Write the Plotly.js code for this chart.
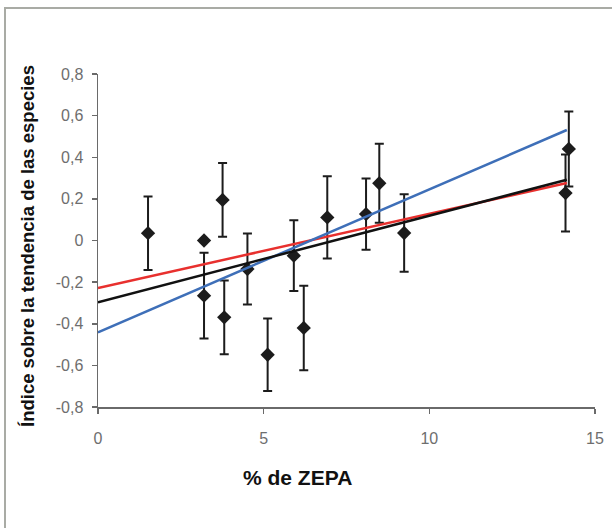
<!DOCTYPE html>
<html>
<head>
<meta charset="utf-8">
<script src="https://cdn.plot.ly/plotly-3.0.1.min.js"></script>
<style>
  html, body { margin: 0; padding: 0; background: #ffffff; }
  #wrap { position: relative; width: 612px; height: 528px; overflow: hidden; }
  #chart { position: absolute; left: 0; top: 0; width: 612px; height: 528px; }
  #frame { position: absolute; left: 4px; top: 7px; width: 640px; height: 560px;
           border-left: 2px solid #a9aba5; border-top: 2px solid #a9aba5; pointer-events: none; }
</style>
</head>
<body>
<div id="wrap">
  <div id="chart"></div>
  <div id="frame"></div>
</div>
<script>
// Percentage of ZEPA (x) and species-trend index (y) with error bars
const zepaPct   = [1.51, 3.2, 3.76, 3.81, 4.51, 5.12, 5.91, 6.21, 6.92, 8.09, 8.49, 9.24, 14.11, 14.21];
const trendIdx  = [0.035, -0.265, 0.195, -0.369, -0.137, -0.549, -0.073, -0.42, 0.111, 0.127, 0.275, 0.036, 0.228, 0.44];
const trendErr  = [0.177, 0.206, 0.177, 0.177, 0.171, 0.174, 0.17, 0.203, 0.198, 0.171, 0.19, 0.186, 0.185, 0.18];

// Point without error bar
const extraX = [3.2];
const extraY = [0.0];

// Regression lines (endpoints)
const fitX     = [0, 14.15];
const redFitY  = [-0.228, 0.276];
const blackFitY= [-0.297, 0.292];
const blueFitY = [-0.441, 0.531];

const xTickVals = [0, 5, 10, 15];
const xTickText = ['0', '5', '10', '15'];
const yTickVals = [-0.8, -0.6, -0.4, -0.2, 0, 0.2, 0.4, 0.6, 0.8];
const yTickText = ['-0,8', '-0,6', '-0,4', '-0,2', '0', '0,2', '0,4', '0,6', '0,8'];

const xTitle = '% de ZEPA';
const yTitle = 'Índice sobre la tendencia de las especies';

const font = "Liberation Sans, Arial, Helvetica, sans-serif";

const traces = [
  {
    x: zepaPct, y: trendIdx, type: 'scatter', mode: 'markers',
    marker: { symbol: 'diamond', size: 11, color: '#1c1c1c' },
    error_y: { type: 'data', array: trendErr, visible: true, color: '#1c1c1c', thickness: 2, width: 4.5 },
    showlegend: false, hoverinfo: 'skip'
  },
  {
    x: extraX, y: extraY, type: 'scatter', mode: 'markers',
    marker: { symbol: 'diamond', size: 11, color: '#1c1c1c' },
    showlegend: false, hoverinfo: 'skip'
  },
  { x: fitX, y: redFitY, type: 'scatter', mode: 'lines', line: { color: '#e8302e', width: 2.5 }, showlegend: false },
  { x: fitX, y: blueFitY, type: 'scatter', mode: 'lines', line: { color: '#3e6fb8', width: 2.5 }, showlegend: false },
  { x: fitX, y: blackFitY, type: 'scatter', mode: 'lines', line: { color: '#111111', width: 2.5 }, showlegend: false }
];

// plot area: x 98..595 px, y 74..407 px
const pw = 612 - 98 - 17, ph = 528 - 74 - 121;
const layout = {
  width: 612, height: 528,
  margin: { l: 98, r: 17, t: 74, b: 121 },
  paper_bgcolor: '#ffffff', plot_bgcolor: '#ffffff',
  font: { family: font, color: '#666666' },
  xaxis: {
    range: [0, 15], tickvals: xTickVals, ticktext: xTickText,
    showgrid: false, zeroline: false, showline: true, linecolor: '#6a6a6a', linewidth: 1.5,
    ticks: 'outside', ticklen: 5, tickcolor: '#6a6a6a', tickwidth: 1.5,
    tickfont: { family: font, size: 16, color: '#6e6e6e' },
    ticklabelstandoff: 11,
    fixedrange: true
  },
  yaxis: {
    range: [-0.8, 0.8], tickvals: yTickVals, ticktext: yTickText,
    showgrid: false, zeroline: false, showline: true, linecolor: '#6a6a6a', linewidth: 1.5,
    ticks: 'outside', ticklen: 5, tickcolor: '#6a6a6a', tickwidth: 1.5,
    tickfont: { family: font, size: 16, color: '#6e6e6e' },
    ticklabelstandoff: 5,
    fixedrange: true
  },
  annotations: [
    {
      text: '<b>' + xTitle + '</b>', xref: 'paper', yref: 'paper',
      x: (297 - 98) / pw, y: (407 - 477) / ph, xanchor: 'center', yanchor: 'middle',
      showarrow: false, font: { family: font, size: 21, color: '#111111' }
    },
    {
      text: '<b>' + yTitle + '</b>', xref: 'paper', yref: 'paper',
      x: (27 - 98) / pw, y: (407 - 246) / ph, xanchor: 'center', yanchor: 'middle',
      textangle: -90, showarrow: false, font: { family: font, size: 18.5, color: '#111111' }
    }
  ]
};

Plotly.newPlot('chart', traces, layout, { staticPlot: true, displayModeBar: false });
</script>
</body>
</html>
